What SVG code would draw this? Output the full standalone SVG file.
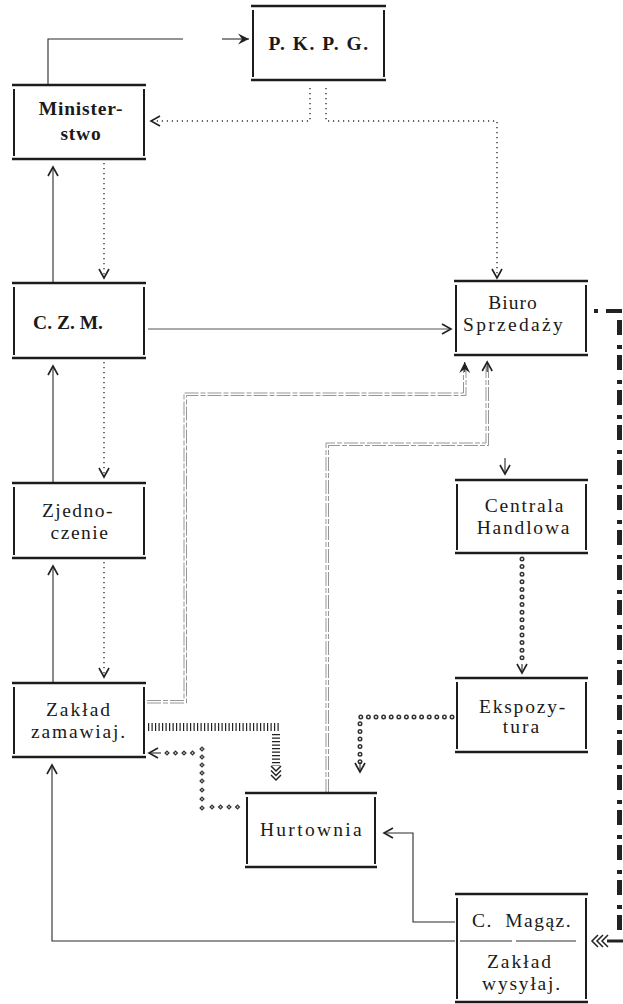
<svg xmlns="http://www.w3.org/2000/svg" width="623" height="1004" viewBox="0 0 623 1004">
<style>
.bg{fill:#fff}
.bt{stroke:#1c1c1c;stroke-width:2.6;fill:none}
.bs{stroke:#1c1c1c;stroke-width:2;fill:none}
.dv{stroke:#333;stroke-width:1.2;fill:none}
.t{font-family:"Liberation Serif",serif;font-size:19.5px;fill:#1a1a1a;text-anchor:middle}
.b{font-weight:bold}
.sol{stroke:#2a2a2a;stroke-width:1.1;fill:none}
.gry{stroke:#555;stroke-width:1;fill:none}
.dot{stroke:#333;stroke-width:1.4;stroke-dasharray:1.2 3.8;fill:none}
.dbl{stroke:#8a8a8a;stroke-width:0.9;stroke-dasharray:14 2 5 2;fill:none}
.cr1{stroke:#333;stroke-width:5;stroke-linecap:round;stroke-dasharray:0 7.6;fill:none}
.cr2{stroke:#fff;stroke-width:2;stroke-linecap:round;stroke-dasharray:0 7.6;fill:none}
.lad{stroke:#222;stroke-width:8;stroke-dasharray:1.2 2.3;fill:none}
.hv{stroke:#222;stroke-width:5;stroke-dasharray:15 10 4 6;fill:none}
.chev{stroke:#222;stroke-width:1.5;fill:none}
</style>
<defs>
<marker id="ah" viewBox="-11 -7 13 14" refX="0" refY="0" markerWidth="13" markerHeight="14" markerUnits="userSpaceOnUse" orient="auto">
<path d="M-9,-5 L0,0 L-9,5" fill="none" stroke="#222" stroke-width="1.6"/>
</marker>
<marker id="af" viewBox="-12 -7 14 14" refX="0" refY="0" markerWidth="14" markerHeight="14" markerUnits="userSpaceOnUse" orient="auto">
<path d="M-11,-5.5 L0,0 L-11,5.5 L-7,0 Z" fill="#222"/>
</marker>
<g id="dm"><path d="M0,-2.8 L2.8,0 L0,2.8 L-2.8,0 Z" fill="#333"/><circle r="0.8" fill="#fff"/></g>
</defs>
<rect class="bg" x="0" y="0" width="623" height="1004"/>

<g id="connectors">
<path class="sol" d="M48,85 V39 H183"/>
<path class="sol" d="M222,39 H249" marker-end="url(#af)"/>
<path class="dot" d="M310,88 V121 H151" marker-end="url(#ah)"/>
<path class="dot" d="M326,88 V121 H497 V278" marker-end="url(#ah)"/>
<path class="dot" d="M104,163 V278" marker-end="url(#ah)"/>
<path class="sol" d="M53,283 V167" marker-end="url(#ah)"/>
<path class="gry" d="M148,329 H451" marker-end="url(#ah)"/>
<path class="dot" d="M104,362 V477" marker-end="url(#ah)"/>
<path class="sol" d="M53,483 V366" marker-end="url(#ah)"/>
<path class="dot" d="M104,562 V677" marker-end="url(#ah)"/>
<path class="sol" d="M53,683 V566" marker-end="url(#ah)"/>
<path class="dbl" d="M147,700.5 H184 V393 H463.5 V366"/>
<path class="dbl" d="M147,703 H186.5 V395.5 H466 V366"/>
<path class="sol" d="M464.7,372 V362" marker-end="url(#af)"/>
<path class="dbl" d="M326,793 V443 H486 V366"/>
<path class="dbl" d="M328.5,793 V445.5 H488.5 V366"/>
<path class="sol" d="M487.2,372 V362" marker-end="url(#ah)"/>
<path class="sol" d="M505,458 V474" marker-end="url(#ah)"/>
<path class="cr1" d="M522,559 V664"/>
<path class="cr2" d="M522,559 V664"/>
<path class="sol" d="M522,664 V673" marker-end="url(#ah)"/>
<path class="cr1" d="M452,717 H360 V762"/>
<path class="cr2" d="M452,717 H360 V762"/>
<path class="sol" d="M360,762 V772" marker-end="url(#ah)"/>
<path class="lad" d="M148,727 H280"/>
<path class="lad" d="M276,734 V766"/>
<path class="chev" d="M271,766 L276,771 L281,766 M271,770.5 L276,775.5 L281,770.5 M271,775 L276,780 L281,775"/>
<use href="#dm" x="167" y="753"/><use href="#dm" x="175.5" y="753"/><use href="#dm" x="184" y="753"/><use href="#dm" x="192.5" y="753"/>
<use href="#dm" x="202" y="749"/><use href="#dm" x="202" y="757"/><use href="#dm" x="202" y="765"/><use href="#dm" x="202" y="773"/>
<use href="#dm" x="202" y="781"/><use href="#dm" x="202" y="790"/><use href="#dm" x="202" y="799"/><use href="#dm" x="202" y="808"/>
<use href="#dm" x="212" y="807"/><use href="#dm" x="220.5" y="807"/><use href="#dm" x="229" y="807"/><use href="#dm" x="237.5" y="807"/>
<path class="sol" d="M161,753 H149" marker-end="url(#ah)"/>
<path class="sol" d="M455,922 H413 V833 H384" marker-end="url(#ah)"/>
<path class="sol" d="M455,941 H52 V765" marker-end="url(#ah)"/>
<rect x="594" y="309" width="4" height="4" fill="#222"/>
<path d="M606,311 H622" stroke="#222" stroke-width="4"/>
<path class="hv" d="M619.5,320 V934"/>
<path d="M607,941 H623" stroke="#222" stroke-width="3"/>
<path class="chev" d="M598,935 L592,941 L598,947 M603,935 L597,941 L603,947 M608,935 L602,941 L608,947"/>
</g>

<g id="pkpg">
<path class="bt" d="M251,6 H386 M251,80 H386"/><path class="bs" d="M253,10 V77 M384,10 V77"/>
<text class="t b" x="319" y="50" style="letter-spacing:1.5px">P. K. P. G.</text>
</g>
<g id="ministerstwo">
<path class="bt" d="M12,85 H146 M12,159 H146"/><path class="bs" d="M14,89 V156 M144,89 V156"/>
<text class="t b" x="81" y="115" style="letter-spacing:0.8px">Minister-</text>
<text class="t b" x="81" y="140" style="letter-spacing:0.8px">stwo</text>
</g>
<g id="czm">
<path class="bt" d="M12,283 H146 M12,358 H146"/><path class="bs" d="M14,287 V355 M144,287 V355"/>
<text class="t b" x="68" y="329">C. Z. M.</text>
</g>
<g id="zjednoczenie">
<path class="bt" d="M12,483 H146 M12,558 H146"/><path class="bs" d="M14,487 V555 M144,487 V555"/>
<text class="t" x="78" y="517" style="letter-spacing:1.5px">Zjedno-</text>
<text class="t" x="80" y="539" style="letter-spacing:1.5px">czenie</text>
</g>
<g id="zaklad-zamawiaj">
<path class="bt" d="M12,683 H146 M12,757 H146"/><path class="bs" d="M14,687 V754 M144,687 V754"/>
<text class="t" x="79" y="716" style="letter-spacing:2px">Zakład</text>
<text class="t" x="79" y="738" style="letter-spacing:1.8px">zamawiaj.</text>
</g>
<g id="biuro">
<path class="bt" d="M454,281 H588 M454,355 H588"/><path class="bs" d="M456,285 V352 M586,285 V352"/>
<text class="t" x="513" y="309" style="letter-spacing:1px">Biuro</text>
<text class="t" x="514" y="331" style="letter-spacing:2.3px">Sprzedaży</text>
</g>
<g id="centrala">
<path class="bt" d="M455,480 H588 M455,553 H588"/><path class="bs" d="M457,484 V550 M586,484 V550"/>
<text class="t" x="525" y="512" style="letter-spacing:1.8px">Centrala</text>
<text class="t" x="524" y="534" style="letter-spacing:1.8px">Handlowa</text>
</g>
<g id="ekspozytura">
<path class="bt" d="M455,678 H588 M455,752 H588"/><path class="bs" d="M457,682 V749 M586,682 V749"/>
<text class="t" x="523" y="713" style="letter-spacing:1.8px">Ekspozy-</text>
<text class="t" x="522" y="733" style="letter-spacing:2px">tura</text>
</g>
<g id="hurtownia">
<path class="bt" d="M245,793 H377 M245,867 H377"/><path class="bs" d="M247,797 V864 M375,797 V864"/>
<text class="t" x="312" y="836" style="letter-spacing:2.3px">Hurtownia</text>
</g>
<g id="c-magaz">
<path class="bt" d="M455,894 H588 M455,1002 H588"/><path class="bs" d="M457,898 V999 M586,898 V999"/>
<path class="dv" d="M460,941 H512 M516,941 H576"/>
<text class="t" x="522" y="927" style="letter-spacing:1.5px;word-spacing:6px">C. Magąz.</text>
<text class="t" x="520" y="968" style="letter-spacing:2px">Zakład</text>
<text class="t" x="522" y="990" style="letter-spacing:1.8px">wysyłaj.</text>
</g>
</svg>
